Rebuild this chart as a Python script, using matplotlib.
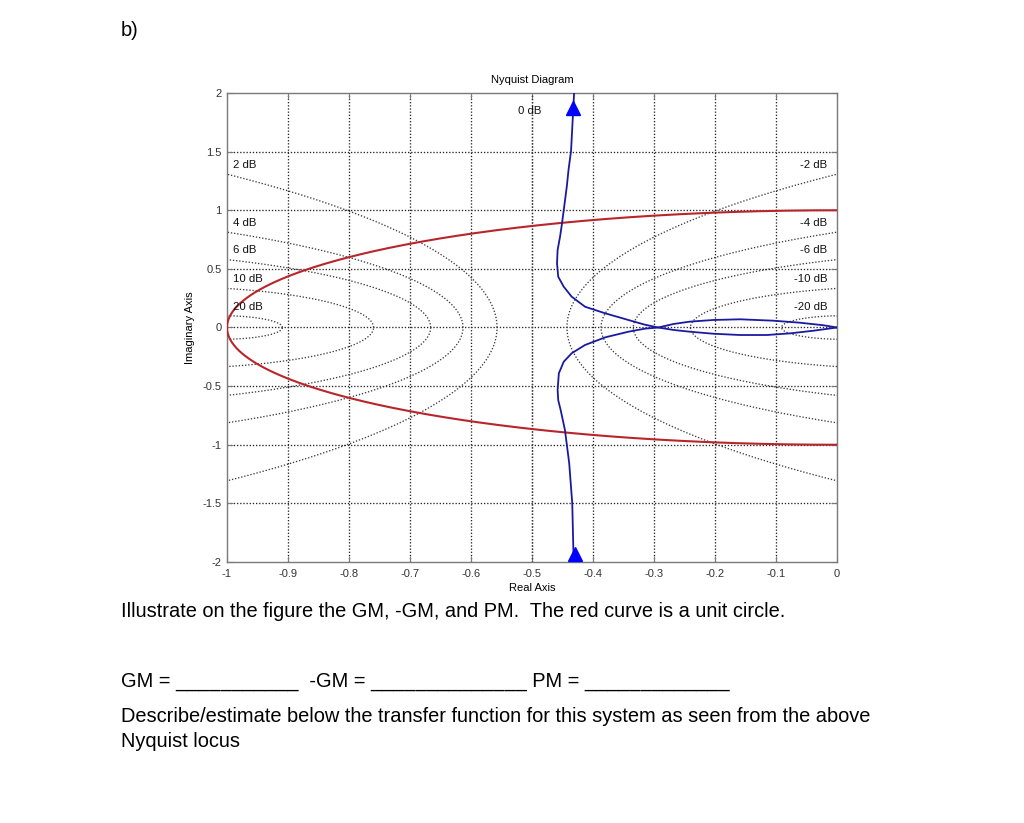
import numpy as np
import matplotlib
matplotlib.use("Agg")
import matplotlib.pyplot as plt
from matplotlib.ticker import FuncFormatter

plt.rcParams['font.family'] = ['Liberation Sans', 'DejaVu Sans']
plt.rcParams['axes.unicode_minus'] = False

# ---------------- data ----------------
x_ticks = [-1, -0.9, -0.8, -0.7, -0.6, -0.5, -0.4, -0.3, -0.2, -0.1, 0]
y_ticks = [-2, -1.5, -1, -0.5, 0, 0.5, 1, 1.5, 2]

m_db_left = [2, 4, 6, 10, 20]
m_db_right = [-2, -4, -6, -10, -20]

# Nyquist locus, branch coming down from the top
upper_re = [-0.431, -0.436, -0.440, -0.443, -0.448, -0.451, -0.454, -0.458, -0.459,
            -0.457, -0.448, -0.435, -0.413, -0.380, -0.342, -0.315, -0.293,
            -0.268, -0.241, -0.203, -0.159, -0.115, -0.077, -0.038, 0.0]
upper_im = [2.0, 1.505, 1.35, 1.20, 1.0, 0.88, 0.775, 0.661, 0.547,
            0.433, 0.348, 0.263, 0.177, 0.121, 0.064, 0.024, 0.0,
            -0.021, -0.036, -0.053, -0.064, -0.064, -0.050, -0.027, 0.0]
# branch coming up from the bottom
lower_re = [-0.430, -0.432, -0.434, -0.439, -0.446, -0.453, -0.457, -0.458, -0.456,
            -0.448, -0.435, -0.413, -0.380, -0.342, -0.315, -0.293,
            -0.268, -0.241, -0.203, -0.159, -0.104, -0.061, -0.022, 0.0]
lower_im = [-2.0, -1.94, -1.5, -1.158, -0.874, -0.704, -0.62, -0.533, -0.391,
            -0.292, -0.220, -0.149, -0.084, -0.036, -0.010, 0.0,
            0.030, 0.050, 0.064, 0.070, 0.058, 0.041, 0.019, 0.0]
arrow_re = [-0.433, -0.430]
arrow_im = [1.868, -1.935]

# ---------------- figure ----------------
fig = plt.figure(figsize=(10.24, 8.23), dpi=100)
ax = fig.add_axes([227/1024, 1-562/823, 610/1024, 469/823])

ax.set_xlim(-1, 0)
ax.set_ylim(-2, 2)

grid_col = '#262626'
cont_col = '#3c3c3c'
dot = (0, (1, 1.4))

# grid
for xv in x_ticks[1:-1]:
    ax.axvline(xv, color=grid_col, lw=0.95, ls=dot, zorder=1)
for yv in y_ticks[1:-1]:
    ax.axhline(yv, color=grid_col, lw=0.95, ls=dot, zorder=1)

# M-circles
theta = np.linspace(0, 2*np.pi, 2000)
for db in m_db_left + m_db_right:
    M = 10**(db/20)
    c = -M**2/(M**2-1)
    r = abs(M/(M**2-1))
    ax.plot(c + r*np.cos(theta), r*np.sin(theta), color=cont_col, lw=0.95, ls=dot, zorder=2)
ax.axvline(-0.5, color=cont_col, lw=0.95, ls=dot, zorder=2)

# labels
lab_fs = 8.2
for db in m_db_left:
    M = 10**(db/20)
    c = -M**2/(M**2-1)
    r = abs(M/(M**2-1))
    ye = np.sqrt(max(r**2 - (-1 - c)**2, 0))
    ax.text(-0.99, ye + 0.035, f"{db} dB", fontsize=lab_fs, color='#111111',
            ha='left', va='bottom', zorder=5)
for db in m_db_right:
    M = 10**(db/20)
    c = -M**2/(M**2-1)
    r = abs(M/(M**2-1))
    ye = np.sqrt(max(r**2 - (0 - c)**2, 0))
    ax.text(-0.016, ye + 0.035, f"{db} dB", fontsize=lab_fs, color='#111111',
            ha='right', va='bottom', zorder=5)
ax.text(-0.503, 1.85, "0 dB", fontsize=lab_fs, color='#111111', ha='center', va='center', zorder=5)

# unit circle
ax.plot(np.cos(theta), np.sin(theta), color='#b8262b', lw=1.5, zorder=3)

# Nyquist locus
blue = '#1a1aa0'
ax.plot(upper_re, upper_im, color=blue, lw=1.3, zorder=4, solid_joinstyle='round')
ax.plot(lower_re, lower_im, color=blue, lw=1.3, zorder=4, solid_joinstyle='round')
ax.plot(arrow_re, arrow_im, ls='none', marker='^', ms=10, color='#0000ff',
        mec='#0000ff', zorder=6, clip_on=False)

# axes styling
ax.set_xticks(x_ticks)
ax.set_yticks(y_ticks)
fmt = FuncFormatter(lambda v, p: f"{v:g}")
ax.xaxis.set_major_formatter(fmt)
ax.yaxis.set_major_formatter(fmt)
ax.tick_params(direction='in', length=4, width=0.8, color='#7a7a7a',
               labelsize=8, labelcolor='#333333', top=True, right=True)
ax.tick_params(axis='x', pad=5)
ax.tick_params(axis='y', pad=4)
for s in ax.spines.values():
    s.set_color('#7a7a7a')
    s.set_linewidth(1.0)

ax.set_title("Nyquist Diagram", fontsize=8, pad=7)
ax.set_xlabel("Real Axis", fontsize=8, labelpad=3)
ax.set_ylabel("Imaginary Axis", fontsize=8, labelpad=5)

# page text
fs = 14.4
fig.text(121/1024, 1-36/823, "b)", fontsize=fs, va='baseline', ha='left')
fig.text(121/1024, 1-617/823,
         "Illustrate on the figure the GM, -GM, and PM.  The red curve is a unit circle.",
         fontsize=fs, va='baseline', ha='left')
fig.text(121/1024, 1-687/823,
         "GM = ___________  -GM = ______________ PM = _____________",
         fontsize=fs, va='baseline', ha='left')
fig.text(121/1024, 1-722/823,
         "Describe/estimate below the transfer function for this system as seen from the above",
         fontsize=fs, va='baseline', ha='left')
fig.text(121/1024, 1-747/823, "Nyquist locus", fontsize=fs, va='baseline', ha='left')

fig.savefig("out.png", dpi=100)
